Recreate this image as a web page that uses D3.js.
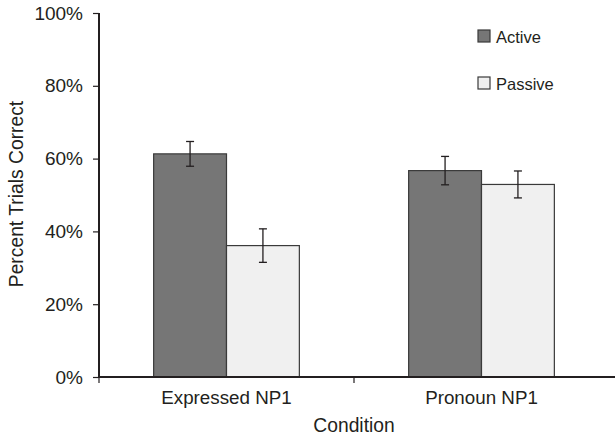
<!DOCTYPE html>
<html>
<head>
<meta charset="utf-8">
<script src="https://cdn.jsdelivr.net/npm/d3@7"></script>
<style>
  body { margin: 0; background: #fff; }
  text { font-family: "Liberation Sans", Arial, sans-serif; fill: #231f20; }
</style>
</head>
<body>
<script>
const conditions = ["Expressed NP1", "Pronoun NP1"];
const voices = ["Active", "Passive"];
const activeMean = [61.3, 56.7];
const activeErr = [3.4, 3.9];
const passiveMean = [36.1, 52.9];
const passiveErr = [4.6, 3.7];
const yTicks = [0, 20, 40, 60, 80, 100];

function main(){
    const width = 615, height = 437;
    const margin = {top: 13, right: 6, bottom: 60, left: 99};

    const svg = d3.select("body").append("svg")
        .attr("width", width)
        .attr("height", height);

    const rows = [];
    conditions.forEach(function(c, i){
        rows.push({cond: c, voice: "Active", v: activeMean[i], e: activeErr[i]});
        rows.push({cond: c, voice: "Passive", v: passiveMean[i], e: passiveErr[i]});
    });

    const x = d3.scaleBand().domain(conditions)
        .range([margin.left, width - margin.right]);
    const inner = d3.scaleBand().domain(voices)
        .range([0, x.bandwidth()]).paddingOuter(0.75);
    const y = d3.scaleLinear().domain([0, 100])
        .range([height - margin.bottom, margin.top]);
    const color = d3.scaleOrdinal().domain(voices).range(["#767676", "#f0f0f0"]);

    // bars
    svg.selectAll(".bar").data(rows).enter().append("rect")
        .attr("x", d => x(d.cond) + inner(d.voice))
        .attr("y", d => y(d.v))
        .attr("width", inner.bandwidth())
        .attr("height", d => y(0) - y(d.v))
        .attr("fill", d => color(d.voice))
        .attr("stroke", "#3a3a3a")
        .attr("stroke-width", 1.2);

    // error bars
    const eb = svg.selectAll(".err").data(rows).enter().append("g")
        .attr("stroke", "#231f20").attr("stroke-width", 1.3);
    const cx = d => x(d.cond) + inner(d.voice) + inner.bandwidth() / 2;
    eb.append("line")
        .attr("x1", cx).attr("x2", cx)
        .attr("y1", d => y(d.v + d.e)).attr("y2", d => y(d.v - d.e));
    eb.append("line")
        .attr("x1", d => cx(d) - 4).attr("x2", d => cx(d) + 4)
        .attr("y1", d => y(d.v + d.e)).attr("y2", d => y(d.v + d.e));
    eb.append("line")
        .attr("x1", d => cx(d) - 4).attr("x2", d => cx(d) + 4)
        .attr("y1", d => y(d.v - d.e)).attr("y2", d => y(d.v - d.e));

    // y axis
    const yAxis = svg.append("g")
        .attr("transform", "translate(" + margin.left + ",0)")
        .call(d3.axisLeft(y).tickValues(yTicks).tickFormat(d => d + "%").tickSize(6).tickPadding(10));
    yAxis.select(".domain").attr("stroke", "#231f20").attr("stroke-width", 2)
        .attr("d", "M0," + y(100) + "V" + y(0));
    yAxis.selectAll(".tick line").attr("stroke", "#231f20").attr("stroke-width", 1.2);
    yAxis.selectAll(".tick text").style("font-size", "19px").style("fill", "#231f20");

    // x axis
    const xAxis = svg.append("g")
        .attr("transform", "translate(0," + y(0) + ")")
        .call(d3.axisBottom(x).tickSize(0).tickPadding(14));
    xAxis.select(".domain").attr("stroke", "#231f20").attr("stroke-width", 2)
        .attr("d", "M" + margin.left + ",0H" + width);
    xAxis.selectAll(".tick text").style("font-size", "18.8px").style("fill", "#231f20");
    // band separators
    xAxis.selectAll(".sep").data([conditions[0], conditions[1]]).enter().append("line")
        .attr("x1", d => x(d)).attr("x2", d => x(d))
        .attr("y1", 0).attr("y2", 6)
        .attr("stroke", "#231f20").attr("stroke-width", 1.2);

    // axis titles
    svg.append("text")
        .attr("transform", "translate(23,194) rotate(-90)")
        .attr("text-anchor", "middle")
        .style("font-size", "19.3px")
        .text("Percent Trials Correct");
    svg.append("text")
        .attr("x", x(conditions[1]))
        .attr("y", 432)
        .attr("text-anchor", "middle")
        .style("font-size", "19.3px")
        .text("Condition");

    // legend
    const legend = svg.selectAll(".legend").data(voices).enter().append("g")
        .attr("transform", (d, i) => "translate(478," + (30 + i * 47) + ")");
    legend.append("rect")
        .attr("width", 12).attr("height", 12)
        .attr("fill", d => color(d))
        .attr("stroke", "#3a3a3a").attr("stroke-width", 1.2);
    legend.append("text")
        .attr("x", 18).attr("y", 12.5)
        .style("font-size", "16.5px")
        .text(d => d);
}
main();
</script>
</body>
</html>
